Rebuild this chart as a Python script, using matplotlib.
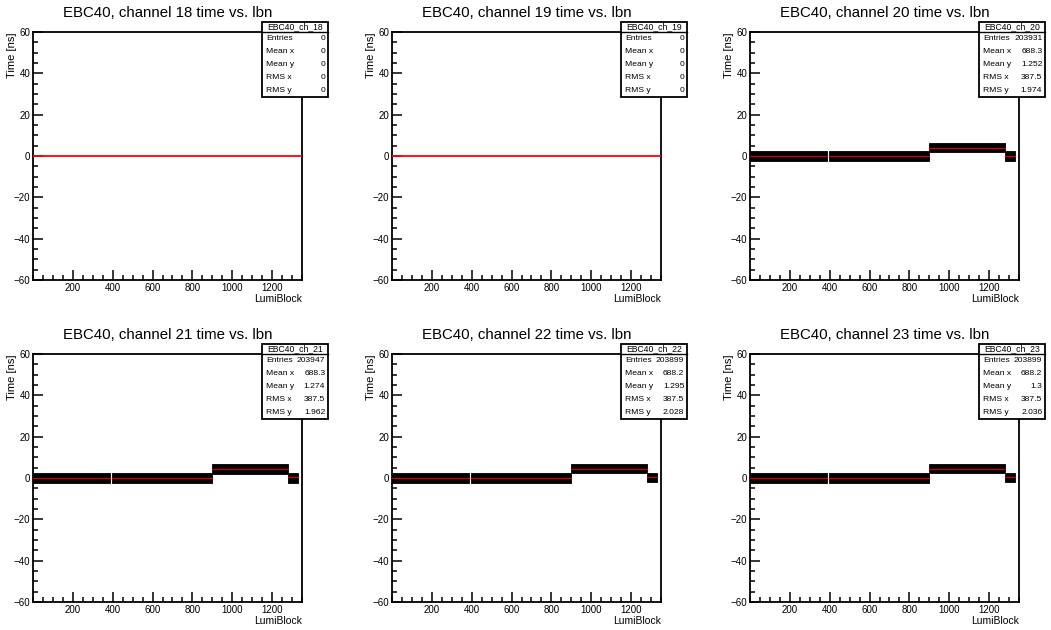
import numpy as np
import matplotlib.pyplot as plt
from matplotlib.patches import Rectangle
from matplotlib.ticker import MultipleLocator

plt.rcParams['font.family'] = ['Liberation Sans', 'DejaVu Sans']

# stats per channel (as printed in the boxes)
channels = [18, 19, 20, 21, 22, 23]
entries = ['0', '0', '203931', '203947', '203899', '203899']
mean_x = ['0', '0', '688.3', '688.3', '688.2', '688.2']
mean_y = ['0', '0', '1.252', '1.274', '1.295', '1.3']
rms_x = ['0', '0', '387.5', '387.5', '387.5', '387.5']
rms_y = ['0', '0', '1.974', '1.962', '2.028', '2.036']

# lumiblock segments with data (same for channels 20-23)
seg_start = [1, 395, 900, 1282]
seg_end = [385, 900, 1282, 1330]
# profile mean per segment, per channel
seg_mean = {
    20: [0.0, 0.0, 3.8, 0.2],
    21: [0.0, 0.0, 4.2, 0.3],
    22: [0.0, 0.0, 4.3, 0.4],
    23: [0.0, 0.0, 4.3, 0.4],
}
# spread of the scatter band around the mean
band_lo = [-2.3, -2.3, -2.1, -2.5]
band_hi = [2.2, 2.2, 2.7, 2.0]

W, H = 1051, 630
fig = plt.figure(figsize=(W / 100, H / 100), dpi=100)

col_left = [33, 392, 750]
row_top = [32, 354]
ax_w, ax_h = 269, 248

for i, ch in enumerate(channels):
    r, c = divmod(i, 3)
    ax = fig.add_axes([col_left[c] / W, 1 - (row_top[r] + ax_h) / H, ax_w / W, ax_h / H])
    ax.set_xlim(0, 1350)
    ax.set_ylim(-60, 60)

    if ch in seg_mean:
        for k in range(len(seg_start)):
            m = seg_mean[ch][k]
            ax.fill_between([seg_start[k], seg_end[k]], m + band_lo[k], m + band_hi[k],
                            color='black', lw=0.6, zorder=2)
            ax.plot([seg_start[k], seg_end[k]], [m, m], color='#d00000', lw=0.9, zorder=3)
    else:
        ax.plot([0, 1350], [0, 0], color='red', lw=1.3, zorder=3)

    ax.set_title('EBC40, channel %d time vs. lbn' % ch, fontsize=10.8, pad=11)
    ax.set_ylabel('Time [ns]', loc='top', fontsize=8)
    ax.yaxis.set_label_coords(-0.058, 1)
    ax.set_xlabel('LumiBlock', loc='right', fontsize=7.5, labelpad=1)

    ax.xaxis.set_major_locator(MultipleLocator(200))
    ax.xaxis.set_minor_locator(MultipleLocator(50))
    ax.yaxis.set_major_locator(MultipleLocator(20))
    ax.yaxis.set_minor_locator(MultipleLocator(5))
    ax.set_xticks([200, 400, 600, 800, 1000, 1200])
    ax.tick_params(which='both', direction='in', labelsize=7, width=1.1, pad=2)
    ax.tick_params(which='major', length=7)
    ax.tick_params(which='minor', length=3.5)
    for s in ax.spines.values():
        s.set_linewidth(1.3)

    # stats box
    bx0, bx1 = (262 - 33) / ax_w, (328 - 33) / ax_w
    by_top, by_bot = 1 + 10 / ax_h, 1 - 65 / ax_h
    tr = ax.transAxes
    ax.add_patch(Rectangle((bx0, by_bot), bx1 - bx0, by_top - by_bot, transform=tr,
                           facecolor='white', edgecolor='black', lw=1.3, clip_on=False, zorder=10))
    ax.plot([bx0, bx1], [1, 1], transform=tr, color='black', lw=1.0, clip_on=False, zorder=11)
    ax.text((bx0 + bx1) / 2, 1 + 5.6 / ax_h, 'EBC40_ch_%d' % ch, transform=tr,
            ha='center', va='center', fontsize=6.2, zorder=12)
    labels = ['Entries', 'Mean x', 'Mean y', 'RMS x', 'RMS y']
    vals = [entries[i], mean_x[i], mean_y[i], rms_x[i], rms_y[i]]
    rh = (1 - by_bot) / 5
    for j in range(5):
        yy = 1 - rh * (j + 0.5)
        ax.text(bx0 + 0.014, yy, labels[j], transform=tr, ha='left', va='center',
                fontsize=6.1, zorder=12)
        ax.text(bx1 - 0.01, yy, vals[j], transform=tr, ha='right', va='center',
                fontsize=6.1, zorder=12)

fig.savefig('out.png', dpi=100)
